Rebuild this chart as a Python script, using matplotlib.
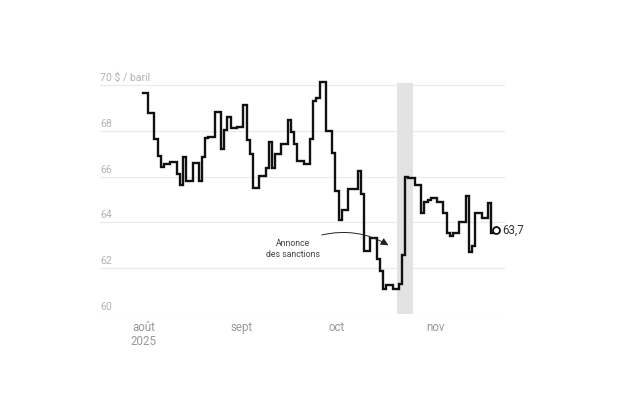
import matplotlib as mpl
mpl.use('Agg')
import matplotlib.pyplot as plt
import pandas as pd

plt.rcParams['font.family'] = ['Roboto', 'DejaVu Sans']

# Brent closes, $ / baril
dates = ['2025-08-01', '2025-08-04', '2025-08-05', '2025-08-06', '2025-08-07', '2025-08-08',
         '2025-08-11', '2025-08-12', '2025-08-13', '2025-08-14', '2025-08-15',
         '2025-08-18', '2025-08-19', '2025-08-20', '2025-08-21', '2025-08-22',
         '2025-08-25', '2025-08-26', '2025-08-27', '2025-08-28', '2025-08-29',
         '2025-09-01', '2025-09-02', '2025-09-03', '2025-09-04', '2025-09-05',
         '2025-09-08', '2025-09-09', '2025-09-10', '2025-09-11', '2025-09-12',
         '2025-09-15', '2025-09-16', '2025-09-17', '2025-09-18', '2025-09-19',
         '2025-09-22', '2025-09-23', '2025-09-24', '2025-09-25', '2025-09-26',
         '2025-09-29', '2025-09-30', '2025-10-01', '2025-10-02', '2025-10-03',
         '2025-10-06', '2025-10-07', '2025-10-08', '2025-10-09', '2025-10-10',
         '2025-10-13', '2025-10-14', '2025-10-15', '2025-10-16', '2025-10-17',
         '2025-10-20', '2025-10-21', '2025-10-22', '2025-10-23', '2025-10-24',
         '2025-10-27', '2025-10-28', '2025-10-29', '2025-10-30', '2025-10-31',
         '2025-11-03', '2025-11-04', '2025-11-05', '2025-11-06', '2025-11-07',
         '2025-11-10', '2025-11-11', '2025-11-12', '2025-11-13', '2025-11-14',
         '2025-11-17', '2025-11-18', '2025-11-19', '2025-11-20']
prices = [69.67, 68.76, 67.64, 66.89, 66.43, 66.57,
          66.63, 66.10, 65.63, 66.84, 65.82,
          66.60, 65.80, 66.84, 67.67, 67.73,
          68.80, 67.22, 68.05, 68.62, 68.12,
          68.16, 69.14, 67.60, 66.99, 65.50,
          66.02, 66.39, 67.49, 66.37, 66.99,
          67.44, 68.47, 67.95, 67.44, 66.68,
          66.57, 67.63, 69.31, 69.42, 70.13,
          67.97, 67.02, 65.35, 64.11, 64.53,
          65.47, 65.45, 66.25, 65.22, 62.73,
          63.32, 62.41, 61.88, 61.07, 61.28,
          61.10, 61.32, 62.59, 65.99, 65.94,
          65.62, 64.40, 64.91, 64.96, 65.07,
          64.88, 64.40, 63.55, 63.41, 63.55,
          64.03, 65.15, 62.72, 62.97, 64.39,
          64.18, 64.86, 63.52, 63.67]

yticks = [60, 62, 64, 66, 68, 70]
ylabels = ['60', '62', '64', '66', '68', '70 $ / baril']
month_ticks = ['2025-08-01', '2025-09-01', '2025-10-01', '2025-11-01']
month_labels = ['août\n2025', 'sept', 'oct', 'nov']
band = ['2025-10-19 20:00', '2025-10-25 01:00']

x = pd.to_datetime(dates)
t0 = pd.Timestamp('2025-08-01')

fig = plt.figure(figsize=(6.24, 4.16), dpi=100)
ax = fig.add_axes([100/624, 1-314/416, 405/624, (314-82.7)/416])

ax.set_xlim(t0 - pd.Timedelta(days=13.64), t0 + pd.Timedelta(days=113.9))
ax.set_ylim(60, 70.1)

ax.set_yticks(yticks)
ax.tick_params(axis='y', length=0, labelleft=False)
ax.grid(axis='y', color='#ebebeb', lw=0.9, zorder=0)
ax.set_axisbelow(True)
for v, lab in zip(yticks, ylabels):
    ax.annotate(lab, xy=(0, v), xycoords=('axes fraction', 'data'),
                xytext=(0, 1.5), textcoords='offset points',
                ha='left', va='bottom', fontsize=7.6, color='#b3b3b3')

ax.set_xticks(pd.to_datetime(month_ticks))
ax.set_xticklabels(month_labels, fontsize=8.3, color='#999999', linespacing=1.1)
ax.tick_params(axis='x', length=0, pad=5)

for s in ax.spines.values():
    s.set_visible(False)

ax.axvspan(pd.Timestamp(band[0]), pd.Timestamp(band[1]), color='#e3e3e3', lw=0, zorder=1)

ax.plot(x, prices, drawstyle='steps-mid', color='#111111', lw=1.7, zorder=3,
        solid_joinstyle='miter', clip_on=False)
ax.plot(x[-1], prices[-1], 'o', ms=5, mfc='white', mec='#111111', mew=1.3, zorder=4)
ax.annotate('63,7', xy=(x[-1], prices[-1]), xytext=(5, 0), textcoords='offset points',
            ha='left', va='center', fontsize=8.3, color='#333333')

ax.text(t0 + pd.Timedelta(days=47.05), 62.85, 'Annonce\ndes sanctions',
        ha='center', va='center', fontsize=6.3, color='#444444', linespacing=1.25)
ax.annotate('', xy=(t0 + pd.Timedelta(days=77.2), 63.0),
            xytext=(t0 + pd.Timedelta(days=56.2), 63.45),
            arrowprops=dict(arrowstyle='-|>,head_length=0.45,head_width=0.22',
                            connectionstyle='arc3,rad=-0.2', color='#222222',
                            lw=0.7, shrinkA=0, shrinkB=0, mutation_scale=10),
            zorder=5)

plt.savefig('out.png', dpi=100)
